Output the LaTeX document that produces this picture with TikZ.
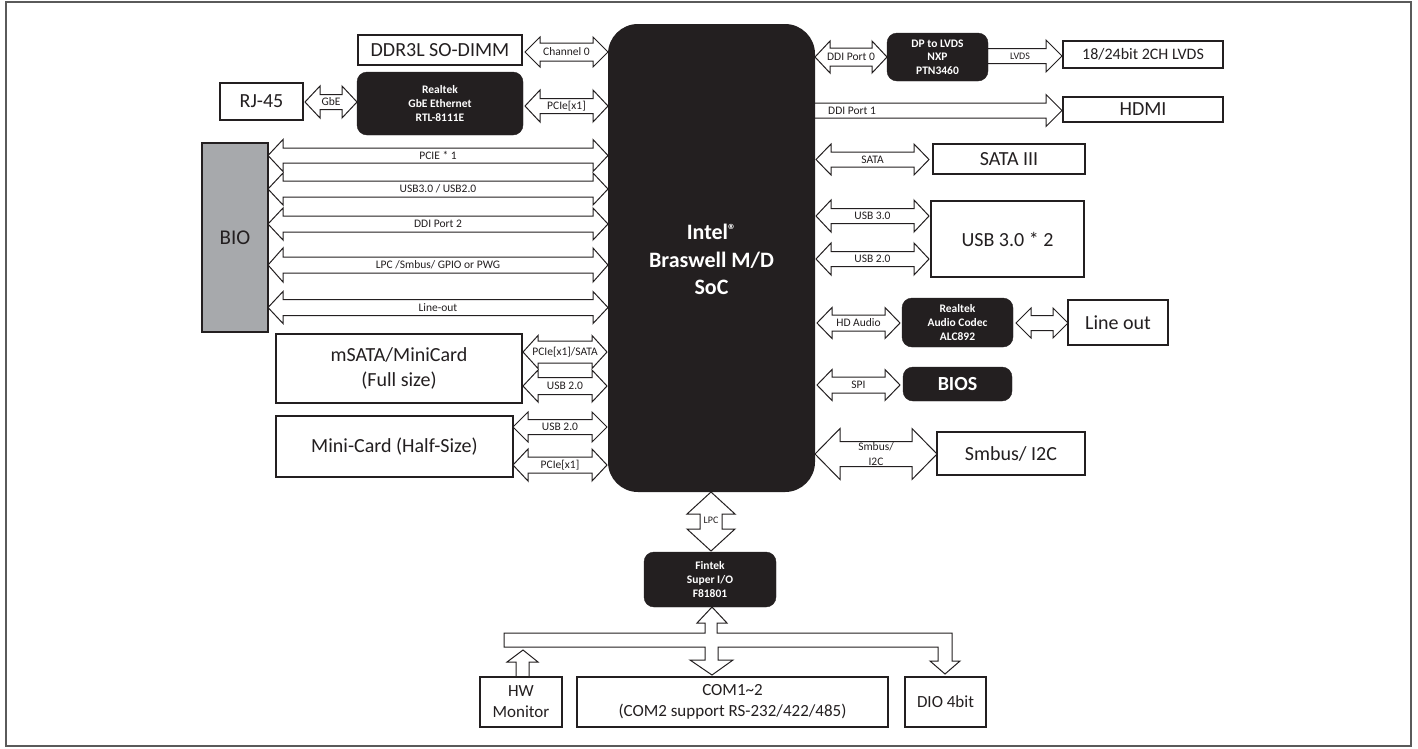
\documentclass[tikz,border=0pt]{standalone}
\usepackage{fontspec}
\setmainfont{Carlito}
\definecolor{ink}{HTML}{231F20}
\definecolor{chip}{HTML}{231F20}
\definecolor{biog}{HTML}{A7A9AC}
\definecolor{framec}{HTML}{5A5A5A}
\newcommand\dbarrow[8]{%
  \draw[arrline] (#1,#3) -- ({#1+#6},{#3-#5}) -- ({#1+#6},{#3-#4}) -- ({#2-#6},{#3-#4}) -- ({#2-#6},{#3-#5}) -- (#2,#3) -- ({#2-#6},{#3+#5}) -- ({#2-#6},{#3+#4}) -- ({#1+#6},{#3+#4}) -- ({#1+#6},{#3+#5}) -- cycle;
  \node[lbl] (#8) at ({(#1+#2)/2},#3) {#7};}
\newcommand\sarrow[6]{%
  \draw[arrline] (#1,{#3-#4}) -- ({#2-#6},{#3-#4}) -- ({#2-#6},{#3-#5}) -- (#2,#3) -- ({#2-#6},{#3+#5}) -- ({#2-#6},{#3+#4}) -- (#1,{#3+#4});}
\tikzset{
  arrline/.style={draw=ink, line width=1pt, fill=white, line join=miter},
  wbox/.style={draw=ink, line width=1.5pt, fill=white, inner sep=0pt, text=ink, align=center, font=\fontsize{20}{24}\selectfont},
  cbox/.style={fill=chip, draw=chip, rounded corners=10pt, inner sep=0pt, text=white, align=center, font=\bfseries\fontsize{11.5}{13.7}\selectfont},
  lbl/.style={inner sep=0pt, text=ink, align=center, font=\fontsize{11.5}{15}\selectfont},
  frame/.style={draw=framec, line width=2pt},
}
\begin{document}
\begin{tikzpicture}[x=1pt,y=-1pt]
\useasboundingbox (0,0) rectangle (1418,748);
\draw[frame] (6,2) rectangle (1411,746);

% ---- connectors (fat arrows) ----
\dbarrow{525}{608}{52}{9}{15}{15}{Channel 0}{lch}
\dbarrow{305}{357}{102}{7.5}{16}{15}{GbE}{lgbe}
\dbarrow{525}{608}{106}{7.5}{16}{15}{PCIe[x1]}{lpa}
\dbarrow{268}{608}{155.5}{7.5}{16}{15}{PCIE * 1}{lb1}
\dbarrow{268}{608}{189}{8}{16}{15}{USB3.0 / USB2.0}{lb2}
\dbarrow{268}{608}{224}{8}{16}{15}{DDI Port 2}{lb3}
\dbarrow{268}{608}{265}{8}{17}{15}{LPC /Smbus/ GPIO or PWG}{lb4}
\dbarrow{268}{608}{307.5}{8}{16}{15}{Line-out}{lb5}
\dbarrow{523}{607}{352}{11}{16.5}{15}{PCIe[x1]/SATA}{lm1}
\dbarrow{523}{607}{386}{8.5}{16}{15}{USB 2.0}{lm2}
\dbarrow{513}{607}{427}{7.5}{15}{15}{USB 2.0}{lh1}
\dbarrow{513}{607}{465}{8}{16}{15}{PCIe[x1]}{lh2}
\dbarrow{815}{887}{57}{9}{16}{15}{DDI Port 0}{ld0}
\dbarrow{816}{929}{159.5}{7.5}{15.5}{15}{SATA}{lsa}
\dbarrow{816}{929}{216}{7.5}{16}{15}{USB 3.0}{lu3}
\dbarrow{816}{929}{259}{7.5}{16}{15}{USB 2.0}{lu2}
\dbarrow{817}{900}{323}{8}{15.5}{15}{HD Audio}{lhd}
\dbarrow{1016}{1068}{323}{7.5}{15}{15}{}{llo}
\dbarrow{817}{900}{385}{8}{15.5}{15}{SPI}{lspi}
\dbarrow{815}{937}{454}{12.5}{25.5}{25}{Smbus/\\I2C}{lsmb}

\sarrow{988}{1062}{56}{7.5}{16}{16}
\node[lbl, font=\fontsize{10}{12}\selectfont] (llv) at (1020,56) {LVDS};
\sarrow{815}{1062}{110.5}{7.5}{16}{16}
\node[lbl, anchor=west] (ld1) at (828,110.5) {DDI Port 1};

% LPC vertical
\draw[arrline] (711,492) -- (735,514) -- (722,514) -- (722,529) -- (735,529) -- (711,551) -- (687,529) -- (700,529) -- (700,514) -- (687,514) -- cycle;
\node[lbl, font=\fontsize{10}{12}\selectfont] (llpc) at (711,520) {LPC};

% bottom tree
\draw[arrline] (712,607) -- (727,623) -- (717,623) -- (717,633) -- (952,633) -- (952,661) -- (960,661) -- (945,674) -- (930,661) -- (938,661) -- (938,647) -- (718,647) -- (718,660) -- (733,660) -- (712,675) -- (690,660) -- (705,660) -- (705,647) -- (504,647) -- (504,633) -- (705,633) -- (705,623) -- (697,623) -- cycle;
% HW monitor up arrow
\draw[arrline] (516,677) -- (516,662) -- (507,662) -- (523,650) -- (538,662) -- (529,662) -- (529,677);

% ---- nodes ----
\node[wbox, minimum width=164pt, minimum height=30pt] (ddr) at (440,50) {DDR3L SO-DIMM};
\node[wbox, minimum width=83pt, minimum height=37pt] (rj) at (261.5,101.5) {RJ-45};
\node[cbox, minimum width=166pt, minimum height=63pt] (gbe) at (440,103.5) {Realtek\\GbE Ethernet\\RTL-8111E};
\node[wbox, fill=biog, minimum width=66pt, minimum height=189pt, font=\fontsize{21}{24}\selectfont] (bio) at (235,237.5) {BIO};
\node[wbox, minimum width=246pt, minimum height=69pt, font=\fontsize{20}{25}\selectfont] (msata) at (399,368.5) {mSATA/MiniCard\\(Full size)};
\node[wbox, minimum width=237pt, minimum height=61pt] (mini) at (394.5,446.5) {Mini-Card (Half-Size)};

\node[fill=chip, rounded corners=30pt, minimum width=207pt, minimum height=468pt, inner sep=0pt] (soc) at (711.5,258) {};
\node[text=white, align=center, inner sep=0pt, font=\bfseries\fontsize{22}{27.5}\selectfont] (soctext) at (711.5,259.5) {Intel\raisebox{0.45ex}{\fontsize{16}{16}\selectfont ®}\\Braswell M/D\\SoC};

\node[cbox, minimum width=101pt, minimum height=48pt] (dp) at (937.5,57) {DP to LVDS\\NXP\\PTN3460};
\node[wbox, minimum width=160pt, minimum height=27pt, font=\fontsize{16}{19}\selectfont] (lvds) at (1143,54.5) {18/24bit 2CH LVDS};
\node[wbox, minimum width=160pt, minimum height=25pt] (hdmi) at (1143,109.5) {HDMI};
\node[wbox, minimum width=152pt, minimum height=30pt] (sata) at (1009,159) {SATA III};
\node[wbox, minimum width=153pt, minimum height=76pt] (usb) at (1007.5,239) {USB 3.0 * 2};
\node[cbox, minimum width=111pt, minimum height=49pt] (audio) at (957.5,322.5) {Realtek\\Audio Codec\\ALC892};
\node[wbox, minimum width=100pt, minimum height=45pt] (lineout) at (1118,322.5) {Line out};
\node[cbox, minimum width=109pt, minimum height=34pt, font=\bfseries\fontsize{20}{24}\selectfont] (bios) at (957.5,384) {BIOS};
\node[wbox, minimum width=148pt, minimum height=43pt] (smbus) at (1011,453.5) {Smbus/ I2C};

\node[cbox, minimum width=132pt, minimum height=55pt] (fintek) at (710,579.5) {Fintek\\Super I/O\\F81801};
\node[wbox, minimum width=82pt, minimum height=50pt, font=\fontsize{17}{21}\selectfont] (hw) at (521,702) {HW\\Monitor};
\node[wbox, minimum width=311pt, minimum height=50pt, font=\fontsize{17}{20.5}\selectfont] (com) at (732.5,702) {COM1\textasciitilde 2\\(COM2 support RS-232/422/485)};
\node[wbox, minimum width=81pt, minimum height=50pt, font=\fontsize{17}{21}\selectfont] (dio) at (945.5,702) {DIO 4bit};
\end{tikzpicture}
\end{document}
